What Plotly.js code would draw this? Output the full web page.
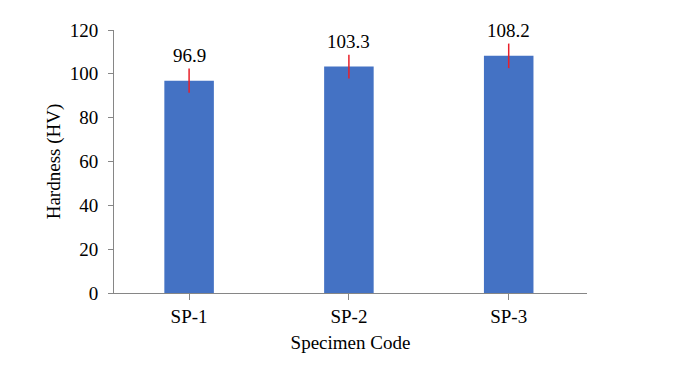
<!DOCTYPE html>
<html>
<head>
<meta charset="utf-8">
<script src="https://cdn.plot.ly/plotly-3.0.1.min.js"></script>
<style>
  body { margin: 0; background: #fff; }
  #chart { width: 689px; height: 366px; }
</style>
</head>
<body>
<div id="chart"></div>
<script>
// specimen codes and measured hardness
var specimens = ["SP-1", "SP-2", "SP-3"];
var hardness = [96.9, 103.3, 108.2];
var hardnessErr = [5.5, 5.4, 5.6];
var yTicks = [0, 20, 40, 60, 80, 100, 120];

var font = "Liberation Serif";

var trace = {
  x: specimens,
  y: hardness,
  type: "bar",
  width: 0.31,
  marker: { color: "#4472C4" },
  error_y: {
    type: "data",
    array: hardnessErr,
    visible: true,
    color: "#E8202A",
    thickness: 1.5,
    width: 0
  },
  hoverinfo: "none"
};

// value labels sit above the error bars
var labels = specimens.map(function(s, i) {
  return {
    x: s,
    y: hardness[i] + hardnessErr[i],
    text: hardness[i].toFixed(1),
    showarrow: false,
    yanchor: "bottom",
    yshift: 1,
    font: { family: font, size: 19, color: "#000" }
  };
});

var layout = {
  width: 689,
  height: 366,
  margin: { l: 114, r: 102, t: 30, b: 73 },
  paper_bgcolor: "#fff",
  plot_bgcolor: "#fff",
  showlegend: false,
  font: { family: font, size: 18, color: "#000" },
  xaxis: {
    range: [-0.47, 2.49],
    showline: true,
    linecolor: "#868686",
    linewidth: 1,
    ticks: "outside",
    ticklen: 6,
    tickcolor: "#868686",
    showgrid: false,
    zeroline: false,
    tickfont: { family: font, size: 19 },
    title: { text: "Specimen Code", font: { family: font, size: 19 }, standoff: 9 }
  },
  yaxis: {
    range: [0, 120],
    tickvals: yTicks,
    showline: true,
    linecolor: "#868686",
    linewidth: 1,
    ticks: "outside",
    ticklen: 5,
    tickcolor: "#868686",
    ticklabelstandoff: 6,
    showgrid: false,
    zeroline: false,
    tickfont: { family: font, size: 19 },
    title: { text: "Hardness (HV)", font: { family: font, size: 19 }, standoff: 4 }
  },
  annotations: labels
};

Plotly.newPlot("chart", [trace], layout, { displayModeBar: false, staticPlot: true });
</script>
</body>
</html>
